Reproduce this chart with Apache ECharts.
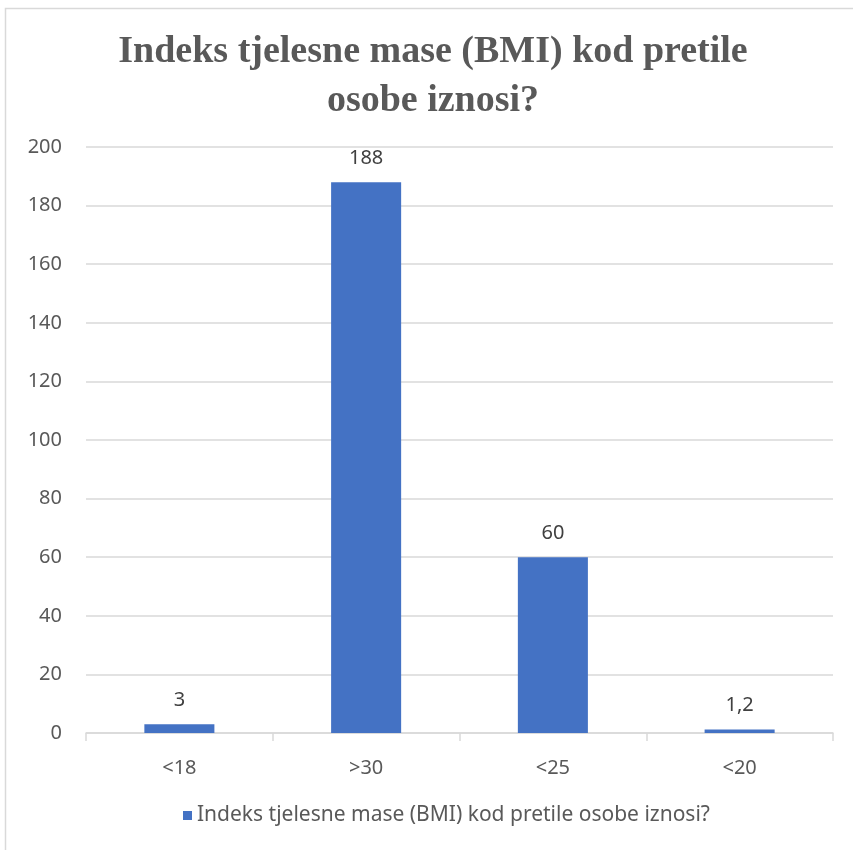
<!DOCTYPE html>
<html>
<head>
<meta charset="utf-8">
<script src="https://cdn.jsdelivr.net/npm/echarts@6/dist/echarts.min.js"></script>
<style>html,body{margin:0;padding:0;background:#fff}#c{width:853px;height:850px}</style>
</head>
<body>
<div id="c"></div>
<script>
const titleText = 'Indeks tjelesne mase (BMI) kod pretile\nosobe iznosi?';
const seriesName = 'Indeks tjelesne mase (BMI) kod pretile osobe iznosi?';
const categories = ['<18', '>30', '<25', '<20'];
const values = [3, 188, 60, 1.2];
const yTicks = [0, 200, 20];

const font = '"Noto Sans", sans-serif';
const chart = echarts.init(document.getElementById('c'), null, {renderer: 'canvas'});
chart.setOption({
  animation: false,
  backgroundColor: '#fff',
  graphic: [{
    type: 'rect', silent: true,
    shape: {x: 5.5, y: 8.5, width: 900, height: 900},
    style: {fill: 'none', stroke: '#d9d9d9', lineWidth: 1.5}
  }],
  title: {
    text: titleText,
    left: 428, top: 23,
    textAlign: 'center',
    textStyle: {fontFamily: '"Liberation Serif", "Times New Roman", serif', fontWeight: 'bold', fontSize: 38, lineHeight: 49, color: '#595959'}
  },
  legend: {
    bottom: 19, left: 178,
    itemWidth: 9, itemHeight: 9, icon: 'rect', itemGap: 6,
    textStyle: {fontFamily: font, fontSize: 21, color: '#595959'},
    data: [seriesName]
  },
  grid: {left: 86, right: 20, top: 147, bottom: 117, containLabel: false},
  xAxis: {
    type: 'category', data: categories,
    axisLine: {lineStyle: {color: '#d9d9d9', width: 1.5}},
    axisTick: {show: true, length: 8, lineStyle: {color: '#d9d9d9', width: 1.5}},
    axisLabel: {fontFamily: font, fontSize: 20, color: '#595959', margin: 25}
  },
  yAxis: {
    type: 'value', min: yTicks[0], max: yTicks[1], interval: yTicks[2],
    axisLine: {show: false}, axisTick: {show: false},
    splitLine: {lineStyle: {color: '#d9d9d9', width: 1.5}},
    axisLabel: {fontFamily: font, fontSize: 20, color: '#595959', margin: 24}
  },
  series: [{
    name: seriesName, type: 'bar', data: values,
    barWidth: '37.5%',
    itemStyle: {color: '#4472c4'},
    label: {
      show: true, position: 'top', distance: 14,
      fontFamily: font, fontSize: 20, color: '#404040',
      formatter: p => String(p.value).replace('.', ',')
    }
  }]
});
</script>
</body>
</html>
